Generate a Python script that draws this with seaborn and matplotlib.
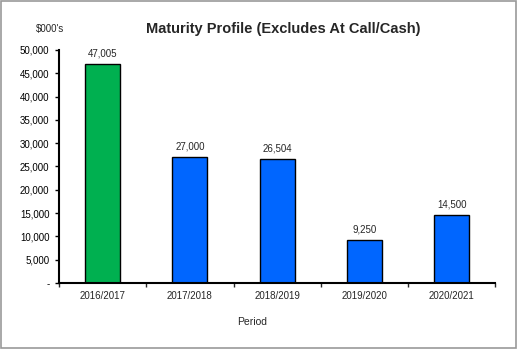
import matplotlib
matplotlib.use("Agg")
import matplotlib.pyplot as plt
import seaborn as sns
import pandas as pd
from matplotlib.ticker import FuncFormatter, FixedLocator
from matplotlib.patches import Rectangle

periods = ["2016/2017", "2017/2018", "2018/2019", "2019/2020", "2020/2021"]
values = [47005, 27000, 26504, 9250, 14500]
colors = ["#00B050", "#0066FF", "#0066FF", "#0066FF", "#0066FF"]

sns.set_theme(style="white")
plt.rcParams["font.family"] = ["Liberation Sans", "DejaVu Sans"]

df = pd.DataFrame({"Period": periods, "Value": values})

fig = plt.figure(figsize=(5.18, 3.49), dpi=100)
ax = fig.add_axes([0.114, 0.189, 0.842, 0.668])

sns.barplot(data=df, x="Period", y="Value", hue="Period", palette=colors,
            width=0.4, edgecolor="black", linewidth=1.0, legend=False, ax=ax,
            saturation=1)

ax.set_ylim(0, 50000)
ax.set_xlim(-0.5, 4.5)
ax.set_yticks(range(0, 50001, 5000))
ax.yaxis.set_major_formatter(FuncFormatter(lambda v, p: "-" if v == 0 else f"{int(v):,}"))
ax.tick_params(axis="y", labelsize=7, length=3, width=1, direction="out", left=True, pad=4, colors="black")
ax.tick_params(axis="x", which="major", labelsize=7, length=0, pad=6)
ax.xaxis.set_minor_locator(FixedLocator([-0.5, 0.5, 1.5, 2.5, 3.5, 4.5]))
ax.tick_params(axis="x", which="minor", length=3, width=1, direction="out", bottom=True)
ax.set_xlabel("")
ax.set_ylabel("")

for s in ["top", "right"]:
    ax.spines[s].set_visible(False)
for s in ["left", "bottom"]:
    ax.spines[s].set_color("black")
    ax.spines[s].set_linewidth(1.5)

for i, v in enumerate(values):
    ax.annotate(f"{v:,}", (i, v), xytext=(0, 4), textcoords="offset points",
                ha="center", va="bottom", fontsize=7)

fig.text(0.547, 0.917, "Maturity Profile (Excludes At Call/Cash)", ha="center", va="center",
         fontsize=10.5, fontweight="bold")
fig.text(0.097, 0.917, "$000's", ha="center", va="center", fontsize=7)
fig.text(0.486, 0.077, "Period", ha="center", va="center", fontsize=7.5)

fig.patches.append(Rectangle((0.002, 0.004), 0.994, 0.992, transform=fig.transFigure,
                             fill=False, edgecolor="#999999", linewidth=1.2))

fig.savefig("out.png", dpi=100)
